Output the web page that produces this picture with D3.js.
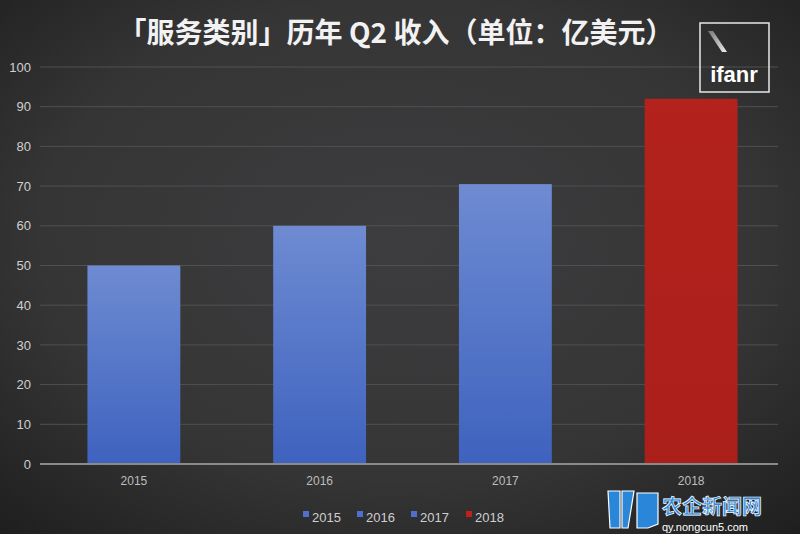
<!DOCTYPE html>
<html><head><meta charset="utf-8">
<script src="https://cdn.jsdelivr.net/npm/d3@7"></script>
<style>html,body{margin:0;padding:0;background:#2a2a2a;}svg{display:block;}</style>
</head><body>
<svg id="c" width="800" height="534"></svg>
<script>
const categories = ["2015", "2016", "2017", "2018"];
const values = [50, 60, 70.5, 92];
const yTicks = [0, 10, 20, 30, 40, 50, 60, 70, 80, 90, 100];
const title = "「服务类别」历年 Q2 收入（单位：亿美元）";

const svg = d3.select("#c");
const W = 800, H = 534;
const defs = svg.append("defs");
const bg = defs.append("radialGradient").attr("id", "bg").attr("cx", "50%").attr("cy", "45%").attr("r", "75%");
bg.append("stop").attr("offset", "0%").attr("stop-color", "#3d3d3f");
bg.append("stop").attr("offset", "60%").attr("stop-color", "#353536");
bg.append("stop").attr("offset", "100%").attr("stop-color", "#1e1e1e");
const gb = defs.append("linearGradient").attr("id", "gblue").attr("x1", 0).attr("y1", 0).attr("x2", 0).attr("y2", 1);
gb.append("stop").attr("offset", "0%").attr("stop-color", "#6e8bd2");
gb.append("stop").attr("offset", "100%").attr("stop-color", "#3e62be");
const gr = defs.append("linearGradient").attr("id", "gred").attr("x1", 0).attr("y1", 0).attr("x2", 0).attr("y2", 1);
gr.append("stop").attr("offset", "0%").attr("stop-color", "#b3221d");
gr.append("stop").attr("offset", "100%").attr("stop-color", "#ab1f1a");
const gs = defs.append("linearGradient").attr("id", "gslash").attr("x1", 0).attr("y1", 0).attr("x2", 1).attr("y2", 1);
gs.append("stop").attr("offset", "0%").attr("stop-color", "#777");
gs.append("stop").attr("offset", "100%").attr("stop-color", "#eee");

svg.append("rect").attr("width", W).attr("height", H).attr("fill", "url(#bg)");

const x = d3.scaleBand().domain(categories).range([41, 784]).paddingInner(0.5).paddingOuter(0.25);
const y = d3.scaleLinear().domain([0, 100]).range([464, 67]);

// gridlines
svg.append("g").selectAll("line").data(yTicks.filter(d => d > 0)).join("line")
  .attr("x1", 40).attr("x2", 778).attr("y1", d => y(d)).attr("y2", d => y(d))
  .attr("stroke", "#505052").attr("stroke-width", 1);

// y axis labels
const yAxis = d3.axisLeft(y).tickValues(yTicks).tickSize(0).tickPadding(0);
const ya = svg.append("g").attr("transform", "translate(31,0)").call(yAxis);
ya.select(".domain").remove();
ya.selectAll("text").attr("fill", "#d0d0d0").attr("font-size", 13).attr("font-family", "Liberation Sans, Arial, sans-serif");

// bars
svg.append("g").selectAll("rect").data(values).join("rect")
  .attr("x", (d, i) => x(categories[i])).attr("width", x.bandwidth())
  .attr("y", d => y(d)).attr("height", d => y(0) - y(d))
  .attr("fill", (d, i) => i === 3 ? "url(#gred)" : "url(#gblue)");

// baseline
svg.append("line").attr("x1", 40).attr("x2", 778).attr("y1", y(0)).attr("y2", y(0)).attr("stroke", "#8a8a8a").attr("stroke-width", 2);

// x axis labels
const xAxis = d3.axisBottom(x).tickSize(0).tickPadding(0);
const xa = svg.append("g").attr("transform", "translate(0,485)").call(xAxis);
xa.select(".domain").remove();
xa.selectAll("text").attr("fill", "#bdbdbd").attr("font-size", 12).attr("dy", 0).attr("font-family", "Liberation Sans, Arial, sans-serif");

// title
svg.append("text").attr("x", 396).attr("y", 43).attr("text-anchor", "middle")
  .attr("fill", "#f2f2f2").attr("font-size", 28).attr("font-weight", "bold")
  .attr("font-family", "Noto Sans CJK SC, sans-serif").text(title);

// legend
const legX = [303, 357, 411, 466];
const lg = svg.append("g").selectAll("g").data(categories).join("g")
  .attr("transform", (d, i) => `translate(${legX[i]},517)`);
lg.append("rect").attr("x", 0).attr("y", -6).attr("width", 6).attr("height", 6)
  .attr("fill", (d, i) => i === 3 ? "#c0201b" : "#4e6fcc");
lg.append("text").attr("x", 9).attr("y", 0).attr("dy", "0.35em").attr("fill", "#cfcfcf")
  .attr("font-size", 13).attr("font-family", "Liberation Sans, Arial, sans-serif").text(d => d);

// ifanr logo
const logo = svg.append("g");
logo.append("rect").attr("x", 700).attr("y", 23).attr("width", 69).attr("height", 69)
  .attr("fill", "none").attr("stroke", "#e8e8e8").attr("stroke-width", 1.5);
logo.append("path").attr("d", "M708,31 L713,31 L727,52 L722,52 Z").attr("fill", "url(#gslash)");
logo.append("text").attr("x", 734).attr("y", 82).attr("text-anchor", "middle").attr("fill", "#ffffff")
  .attr("font-size", 22).attr("font-weight", "bold").attr("font-family", "Liberation Sans, Arial, sans-serif").text("ifanr");

// watermark (graphic mark + text)
const wm = svg.append("g");
wm.append("path")
  .attr("d", "M608,491 L620,491 L620,528 L610,528 Z M622,491 L634,491 L628,528 L622,528 Z M637,493 L658,493 L658,524 L648,528 L637,528 Z")
  .attr("fill", "#2a86d8").attr("stroke", "#ffffff").attr("stroke-width", 1.2);
wm.append("text").attr("x", 662).attr("y", 514).attr("fill", "#2a8ae0").attr("stroke", "#fff").attr("stroke-width", 0.7)
  .attr("font-size", 20).attr("font-weight", "bold").attr("font-family", "Noto Sans CJK SC, sans-serif").text("农企新闻网");
wm.append("text").attr("x", 662).attr("y", 531).attr("fill", "#ffffff")
  .attr("font-size", 11).attr("font-family", "Liberation Sans, Arial, sans-serif").text("qy.nongcun5.com");
</script>
</body></html>
